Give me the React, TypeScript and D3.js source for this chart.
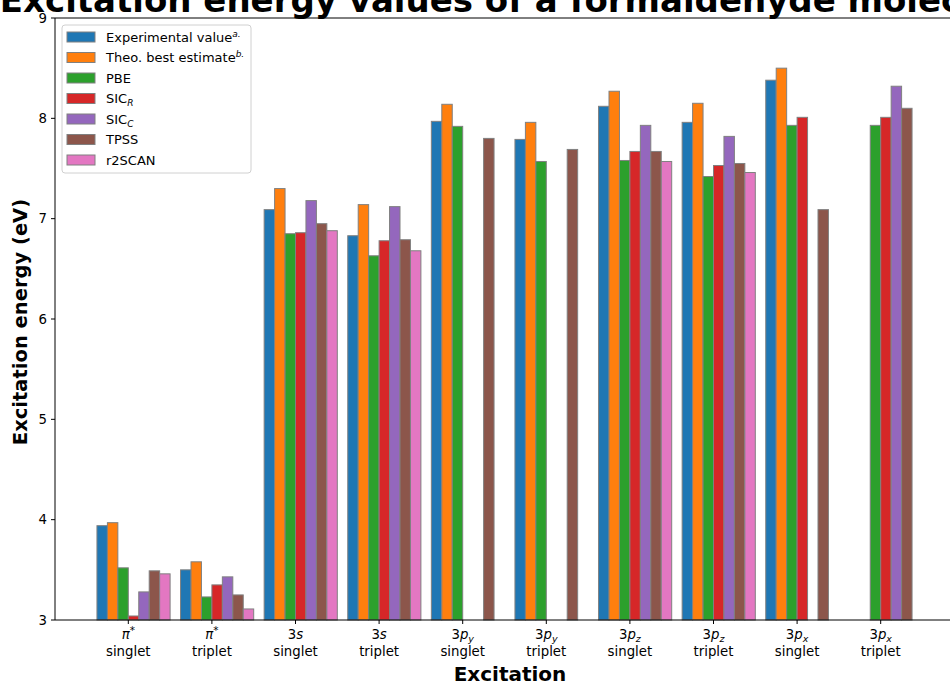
import React from "react";
import * as d3 from "d3";

const categories = ["pi*|singlet", "pi*|triplet", "3s|singlet", "3s|triplet", "3py|singlet", "3py|triplet", "3pz|singlet", "3pz|triplet", "3px|singlet", "3px|triplet"];
const seriesNames = ["Experimental value", "Theo. best estimate", "PBE", "SIC_R", "SIC_C", "TPSS", "r2SCAN"];
const colors = ["#1f77b4", "#ff7f0e", "#2ca02c", "#d62728", "#9467bd", "#8c564b", "#e377c2"];

const experimental = [3.94, 3.50, 7.09, 6.83, 7.97, 7.79, 8.12, 7.96, 8.38, null];
const theoBest = [3.97, 3.58, 7.30, 7.14, 8.14, 7.96, 8.27, 8.15, 8.50, null];
const pbe = [3.52, 3.23, 6.85, 6.63, 7.92, 7.57, 7.58, 7.42, 7.93, 7.93];
const sicR = [3.04, 3.35, 6.86, 6.78, null, null, 7.67, 7.53, 8.01, 8.01];
const sicC = [3.28, 3.43, 7.18, 7.12, null, null, 7.93, 7.82, null, 8.32];
const tpss = [3.49, 3.25, 6.95, 6.79, 7.80, 7.69, 7.67, 7.55, 7.09, 8.10];
const r2scan = [3.46, 3.11, 6.88, 6.68, null, null, 7.57, 7.46, null, null];
const series = [experimental, theoBest, pbe, sicR, sicC, tpss, r2scan];
const yTicks = [3, 4, 5, 6, 7, 8, 9];

const W = 950, H = 684;
const left = 55, top = 18, bottom = 620;
const x0 = 128.3, step = 83.6;
const font = "DejaVu Sans, sans-serif";

function TickTop({ c }: { c: string }) {
  if (c === "pi*") return (<tspan><tspan fontStyle="italic">π</tspan><tspan fontSize="10.5" dy="-5">*</tspan></tspan>);
  if (c === "3s") return (<tspan>3<tspan fontStyle="italic">s</tspan></tspan>);
  const sub = c.slice(2);
  return (<tspan>3<tspan fontStyle="italic">p</tspan><tspan fontStyle="italic" fontSize="9.5" dy="3">{sub}</tspan></tspan>);
}

function LegendLabel({ i }: { i: number }) {
  const n = seriesNames[i];
  if (i === 0) return (<tspan>{n}<tspan fontStyle="italic" fontSize="9" dy="-5">a.</tspan></tspan>);
  if (i === 1) return (<tspan>{n}<tspan fontStyle="italic" fontSize="9" dy="-5">b.</tspan></tspan>);
  if (n.startsWith("SIC_")) return (<tspan>SIC<tspan fontStyle="italic" fontSize="9" dy="3">{n.slice(4)}</tspan></tspan>);
  return <tspan>{n}</tspan>;
}

export default function App() {
  const x = d3.scaleLinear().domain([0, 1]).range([x0, x0 + step]);
  const y = d3.scaleLinear().domain([3, 9]).range([bottom, top]);
  const bw = step / 8;
  return (
    <svg width={W} height={H} style={{ position: "absolute", left: 0, top: 0 }} fontFamily={font}>
      <rect x={0} y={0} width={W} height={H} fill="white" />
      {series.map((vals, s) =>
        vals.map((v, i) =>
          v == null ? null : (
            <rect key={`${s}-${i}`} x={x(i) + (s - 3) * bw} y={y(v)} width={bw} height={y(3) - y(v)}
              fill={colors[s]} stroke="grey" strokeWidth={1} />
          )
        )
      )}
      <line x1={left} x2={W} y1={top} y2={top} stroke="black" strokeWidth={1} />
      <line x1={left} x2={W} y1={bottom} y2={bottom} stroke="black" strokeWidth={1} />
      <line x1={left} x2={left} y1={top} y2={bottom} stroke="black" strokeWidth={1} />
      {yTicks.map((t) => (
        <g key={t}>
          <line x1={left - 4} x2={left} y1={y(t)} y2={y(t)} stroke="black" />
          <text x={left - 8} y={y(t)} dy="0.35em" textAnchor="end" fontSize={13.3}>{t}</text>
        </g>
      ))}
      {categories.map((c, i) => {
        const [t1, t2] = c.split("|");
        return (
          <g key={c + i}>
            <line x1={x(i)} x2={x(i)} y1={bottom} y2={bottom + 4} stroke="black" />
            <text x={x(i)} y={639} textAnchor="middle" fontSize={13.3}><TickTop c={t1} /></text>
            <text x={x(i)} y={656} textAnchor="middle" fontSize={13.3}>{t2}</text>
          </g>
        );
      })}
      <text x={510} y={681} textAnchor="middle" fontSize={20} fontWeight="bold">Excitation</text>
      <text transform={`translate(27,322) rotate(-90)`} textAnchor="middle" fontSize={19.5} fontWeight="bold">Excitation energy (eV)</text>
      <text x={510} y={12} textAnchor="middle" fontSize={34} fontWeight="bold">Excitation energy values of a formaldehyde molecule</text>
      <rect x={62} y={25} width={189} height={148} rx={3} fill="white" fillOpacity={0.8} stroke="#d0d0d0" />
      {seriesNames.map((n, i) => (
        <g key={n}>
          <rect x={67} y={32 + i * 20.5} width={28} height={10} fill={colors[i]} stroke="grey" />
          <text x={106} y={37 + i * 20.5} dy="0.35em" fontSize={13}><LegendLabel i={i} /></text>
        </g>
      ))}
    </svg>
  );
}
